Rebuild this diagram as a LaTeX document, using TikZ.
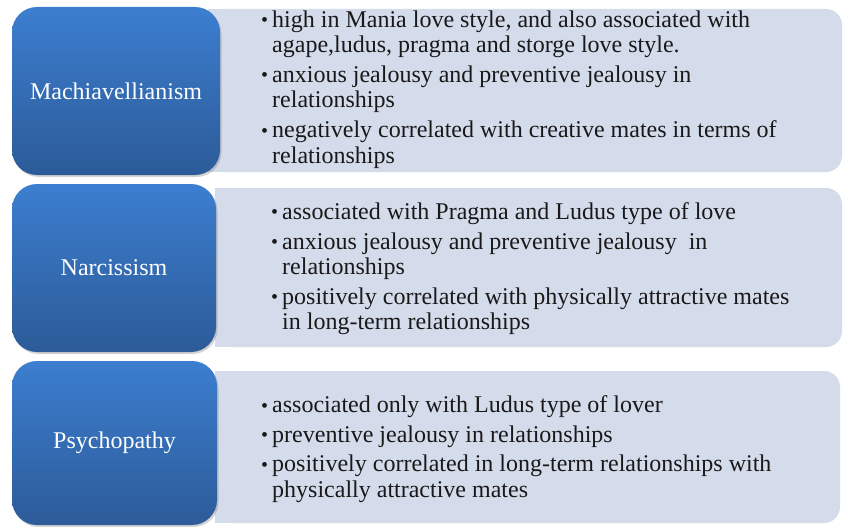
\documentclass[tikz,border=0pt]{standalone}
\usepackage{fontspec}
\setmainfont{Liberation Serif}
\usepackage{tikz}
\usetikzlibrary{shadows}

\definecolor{traittop}{HTML}{3C7ED0}
\definecolor{traitbot}{HTML}{2C5B98}
\definecolor{notefill}{HTML}{D4DBEA}

\newcommand{\blt}{\makebox[10pt][l]{\hspace{-1pt}\raisebox{0.5pt}{\fontsize{20}{20}\selectfont\textbullet}}}

\begin{document}
\begin{tikzpicture}[x=1pt, y=-1pt
        , trait/.style={rounded corners=25pt, inner sep=0pt
            , top color=traittop, bottom color=traitbot
            , text=white, font=\fontsize{24}{25}\selectfont
            , drop shadow={shadow xshift=1.5pt, shadow yshift=-2pt, opacity=0.35}}
        , notebox/.style={rounded corners=16pt, fill=notefill, inner sep=0pt}
        , notes/.style={anchor=west, inner sep=0pt, text=black!90
            , font=\fontsize{24}{25.6}\selectfont}
        ]
        \useasboundingbox (0,0) rectangle (843,527);

        \node[notebox, minimum width=634pt, minimum height=163pt] (mach note) at (525,90.5) {};
        \fill[notefill] (mach note.north west) rectangle ([xshift=20pt]mach note.south west);
        \node[notebox, minimum width=627pt, minimum height=159pt] (narc note) at (528.5,267.5) {};
        \fill[notefill] (narc note.north west) rectangle ([xshift=20pt]narc note.south west);
        \node[notebox, minimum width=625pt, minimum height=152pt] (psych note) at (527.5,447) {};
        \fill[notefill] (psych note.north west) rectangle ([xshift=20pt]psych note.south west);

        \node[trait, minimum width=208pt, minimum height=168pt] (mach) at (116,91) {Machiavellianism};
        \node[trait, minimum width=204pt, minimum height=168pt] (narc) at (114,268) {Narcissism};
        \node[trait, minimum width=205pt, minimum height=164pt] (psych) at (114.5,443) {Psychopathy};

        \node[notes] (mach text) at (262,90) {\begin{tabular}{@{}l@{}l@{}}
            \blt & high in Mania love style, and also associated with\\
                 & agape,ludus, pragma and storge love style.\\[4pt]
            \blt & anxious jealousy and preventive jealousy in\\
                 & relationships\\[4pt]
            \blt & negatively correlated with creative mates in terms of\\
                 & relationships
        \end{tabular}};

        \node[notes] (narc text) at (272,269.5) {\begin{tabular}{@{}l@{}l@{}}
            \blt & associated with Pragma and Ludus type of love\\[4pt]
            \blt & anxious jealousy and preventive jealousy\ \ in\\
                 & relationships\\[4pt]
            \blt & positively correlated with physically attractive mates\\
                 & in long-term relationships
        \end{tabular}};

        \node[notes] (psych text) at (262,450) {\begin{tabular}{@{}l@{}l@{}}
            \blt & associated only with Ludus type of lover\\[4pt]
            \blt & preventive jealousy in relationships\\[4pt]
            \blt & positively correlated in long-term relationships with\\
                 & physically attractive mates
        \end{tabular}};
    \end{tikzpicture}
\end{document}
